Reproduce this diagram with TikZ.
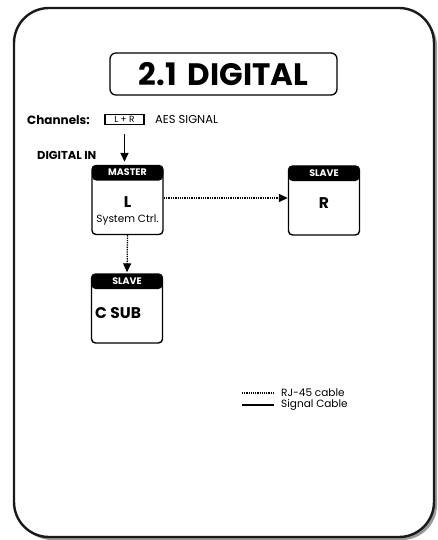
\documentclass[tikz,border=0pt]{standalone}
\usepackage{fontspec}
\setmainfont{Poppins}
\usepackage{tikz}
\usetikzlibrary{arrows.meta,positioning}

\begin{document}
\begin{tikzpicture}[
  x=1pt, y=-1pt,
  frame/.style={draw=black!90, line width=2.4pt, rounded corners=35pt, fill=white},
  titlebox/.style={draw, line width=1.3pt, rounded corners=6pt, minimum width=227pt,
                   minimum height=42pt, font=\fontsize{31}{31}\bfseries},
  unit/.style={draw, line width=1.4pt, rounded corners=4pt, minimum width=71pt,
               minimum height=69pt, inner sep=0pt,
               path picture={\fill[black] (path picture bounding box.north west)
                 rectangle ([yshift=-15pt]path picture bounding box.north east);}},
  hd/.style={text=white, font=\fontsize{9.5}{9.5}\bfseries, inner sep=0pt},
  big/.style={font=\fontsize{15.5}{15.5}\bfseries, inner sep=0pt},
  small/.style={font=\fontsize{10.5}{11}\selectfont, inner sep=0pt},
  lbl/.style={font=\fontsize{11.5}{12}\bfseries, inner sep=0pt},
  sig/.style={-{Triangle[length=9pt,width=8pt]}, line width=1.5pt},
  rj/.style={-{Triangle[length=9pt,width=8pt]}, line width=1.3pt, densely dotted},
]
\useasboundingbox (0,0) rectangle (437,540);

% ============ frame =========================================================
\fill[black!40, rounded corners=35pt] (17,11) rectangle (437,540);
\draw[frame] (14,8) rectangle (434,537);

\node[titlebox] (title) at (223.5,74) {2.1\hspace{11pt}DIGITAL};

% ============ channels ======================================================
\node[lbl, anchor=west, font=\fontsize{12}{12}\bfseries] (chan) at (27,120) {Channels:};
\node[draw, line width=1.1pt, minimum width=39pt, minimum height=10pt, inner sep=0pt,
      text height=6.5pt, text depth=0.5pt,
      font=\fontsize{9}{9}\selectfont] (lr) at (124.5,119.5) {L + R};
\node[small, anchor=west, font=\fontsize{11.5}{12}\selectfont] (aes) at (155,119.5) {AES SIGNAL};
\node[lbl, anchor=west] (din) at (37,155) {DIGITAL IN};

% ============ units =========================================================
\node[unit] (master) at (127.5,200) {};
\node[hd]    (masterhd) at ([yshift=-7.5pt]master.north) {MASTER};
\node[big]   (mastertxt) at (127.5,202) {L};
\node[small] (masterctl) at (127.5,220) {System Ctrl.};

\node[unit] (right) at (324,200.5) {};
\node[hd]  (righthd) at ([yshift=-7.5pt]right.north) {SLAVE};
\node[big] (righttxt) at (324,203) {R};

\node[unit] (csub) at (127,308.5) {};
\node[hd]  (csubhd) at ([yshift=-7.5pt]csub.north) {SLAVE};
\node[big, anchor=west] (csubtxt) at (95,313) {C SUB};

% ============ flows =========================================================
\draw[sig, shorten >=3pt] ([yshift=-9pt]lr.south) -- (lr.south |- master.north);
\draw[rj] (master.east |- 0,198) -- (right.west |- 0,198);
\draw[rj, shorten >=1pt] (master.south) -- (csub.north);

% ============ legend ========================================================
\node[small, anchor=west] (rjtxt) at (281,393) {RJ-45 cable};
\node[small, anchor=west] (sigtxt) at (281,405) {Signal Cable};
\coordinate (rjstart) at (242,393);
\coordinate (sigstart) at (242,405);
\draw[line width=1.2pt, densely dotted, shorten >=7pt] (rjstart) -- (rjtxt.west);
\draw[line width=1.3pt, shorten >=7pt] (sigstart) -- (sigtxt.west);

\end{tikzpicture}
\end{document}
